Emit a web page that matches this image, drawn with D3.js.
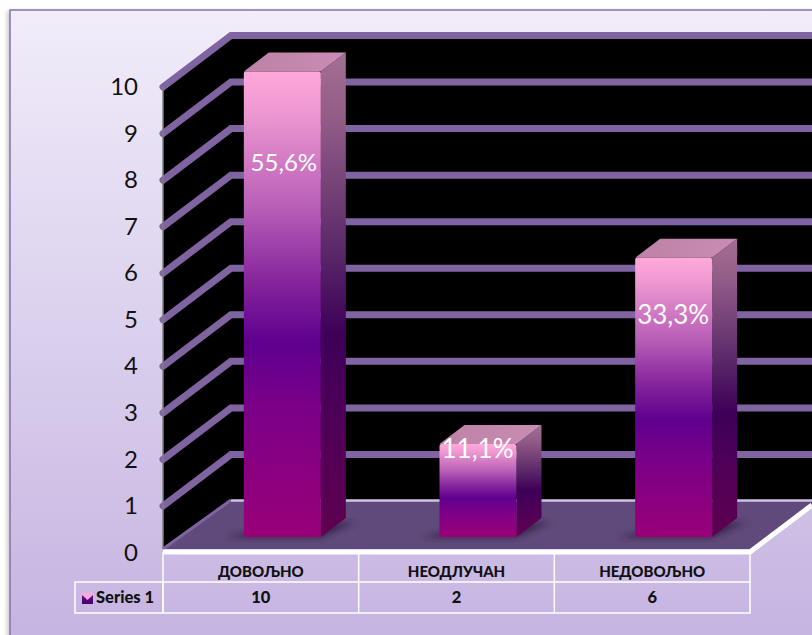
<!DOCTYPE html>
<html>
<head>
<meta charset="utf-8">
<script src="https://cdn.jsdelivr.net/npm/d3@7"></script>
<style>
html,body{margin:0;padding:0;background:#fff;overflow:hidden}
svg{display:block}
text{font-family:"Lato","Open Sans",sans-serif}
</style>
</head>
<body>
<div id="chart"></div>
<script>
var categories = ["ДОВОЉНО", "НЕОДЛУЧАН", "НЕДОВОЉНО"];
var seriesName = "Series 1";
var values = [10, 2, 6];
var percentLabels = ["55,6%", "11,1%", "33,3%"];
var yTicks = [0,1,2,3,4,5,6,7,8,9,10];

var width = 812, height = 635;
var left = 163, right = 750, base = 549, axisBase = 552.5, top10 = 87;
var depthX = 68, depthY = 49, gridDepthY = 51.5;

var svg = d3.select("#chart").append("svg").attr("width", width).attr("height", height);
var defs = svg.append("defs");

function gradient(id, stops, horizontal){
  var g = defs.append("linearGradient").attr("id", id)
    .attr("x1", 0).attr("y1", 0).attr("x2", horizontal ? 1 : 0).attr("y2", horizontal ? 0 : 1);
  stops.forEach(function(s){
    g.append("stop").attr("offset", s[0]).attr("stop-color", s[1]);
  });
}
gradient("bg", [[0,"#f1edfa"],[1,"#c4b2e0"]]);
gradient("front", [[0,"#ffa8dc"],[0.08,"#f09ad2"],[0.3,"#b65cb6"],[0.45,"#86259c"],[0.58,"#5f008f"],[0.72,"#7a0088"],[1,"#9a0078"]]);
gradient("side", [[0,"#a56f94"],[0.15,"#8f5a85"],[0.4,"#5c2a6a"],[0.58,"#3e0058"],[0.75,"#4e0058"],[1,"#5f0050"]]);
gradient("topface", [[0,"#bd82a6"],[1,"#c98cb4"]], true);
gradient("key", [[0,"#6a1090"],[1,"#4a0070"]]);

var blur = defs.append("filter").attr("id", "blur")
  .attr("x", "-30%").attr("y", "-30%").attr("width", "160%").attr("height", "160%");
blur.append("feGaussianBlur").attr("stdDeviation", 3);
var panelShadow = defs.append("filter").attr("id", "panelShadow")
  .attr("x", "-5%").attr("y", "-5%").attr("width", "110%").attr("height", "110%");
panelShadow.append("feGaussianBlur").attr("stdDeviation", 2);

// scales
var y = d3.scaleLinear().domain([0, 10]).range([axisBase, top10]);
var x = d3.scaleBand().domain(categories).range([left, right]);
var barW = 77, barDx = 25, barDy = 19, barBaseY = 537, barOffset = 21.5;

// panel
svg.append("rect").attr("x", 7).attr("y", 11).attr("width", 830).attr("height", 650)
  .attr("fill", "#999").attr("opacity", 0.5).attr("filter", "url(#panelShadow)");
svg.append("rect").attr("x", 10).attr("y", 10).attr("width", 830).attr("height", 650)
  .attr("fill", "url(#bg)").attr("stroke", "#8a70ac").attr("stroke-width", 1.5);

// back and side wall
var lineGen = d3.line();
svg.append("path")
  .attr("d", lineGen([[left, top10], [left + depthX, top10 - gridDepthY], [width, top10 - gridDepthY], [width, base - depthY], [left + depthX, base - depthY], [left, base]]) + "Z")
  .attr("fill", "#000");

// floor
svg.append("path")
  .attr("d", lineGen([[left, base], [left + depthX, base - depthY], [width, base - depthY], [width, base - depthY + 5], [right, base]]) + "Z")
  .attr("fill", "#604a7b");

// gridlines
var grid = svg.append("g");
grid.selectAll("path").data(yTicks.filter(function(d){ return d > 0; })).enter().append("path")
  .attr("d", function(d){
    return lineGen([[left, y(d)], [left + depthX, y(d) - gridDepthY], [width + 5, y(d) - gridDepthY]]);
  })
  .attr("fill", "none").attr("stroke", "#8064a2").attr("stroke-width", 7)
  .attr("stroke-linecap", "round").attr("stroke-linejoin", "miter");

// floor edges
svg.append("path")
  .attr("d", lineGen([[left, base], [left + depthX, base - depthY]]))
  .attr("stroke", "#8064a2").attr("stroke-width", 3).attr("fill", "none");
svg.append("line").attr("x1", left + depthX).attr("x2", width)
  .attr("y1", base - depthY + 0.5).attr("y2", base - depthY + 0.5)
  .attr("stroke", "#cfc3e3").attr("stroke-width", 2.5);
svg.append("line").attr("x1", left).attr("x2", left)
  .attr("y1", top10).attr("y2", base)
  .attr("stroke", "#7f7f7f").attr("stroke-width", 1.5);

// bars
var bars = svg.selectAll("g.bar").data(values).enter().append("g").attr("class", "bar");
function barX(i){ return x(categories[i]) + x.bandwidth() / 2 + barOffset - barW / 2; }
function barTop(d){ return barBaseY - (y(0) - y(d)); }

bars.append("path")
  .attr("d", function(d, i){
    var x0 = barX(i);
    return lineGen([[x0 - 18, barBaseY + 1], [x0 + barW, barBaseY + 1], [x0 + barW + barDx + 10, barBaseY - barDy + 4], [x0 + barDx, barBaseY - barDy + 8]]) + "Z";
  })
  .attr("fill", "#2f1f40").attr("opacity", 0.75).attr("filter", "url(#blur)");
bars.append("path")
  .attr("d", function(d, i){
    var x0 = barX(i) + barW, t = barTop(d);
    return lineGen([[x0, t], [x0 + barDx, t - barDy], [x0 + barDx, barBaseY - barDy], [x0, barBaseY]]) + "Z";
  })
  .attr("fill", "url(#side)");
bars.append("path")
  .attr("d", function(d, i){
    var x0 = barX(i), t = barTop(d);
    return lineGen([[x0, t], [x0 + barDx, t - barDy], [x0 + barW + barDx, t - barDy], [x0 + barW, t]]) + "Z";
  })
  .attr("fill", "url(#topface)");
bars.append("rect")
  .attr("x", function(d, i){ return barX(i); })
  .attr("y", barTop)
  .attr("width", barW).attr("rx", 2)
  .attr("height", function(d){ return barBaseY - barTop(d); })
  .attr("fill", "url(#front)");

// percent labels
bars.append("text")
  .attr("x", function(d, i){ return barX(i) + barW / 2 + (i == 0 ? 1.5 : -0.5); })
  .attr("y", function(d, i){ return y(i == 0 ? 8.37 : i == 1 ? 2.22 : 5.1); })
  .attr("dy", "0.35em")
  .attr("text-anchor", "middle").attr("fill", "#fff")
  .attr("font-size", function(d, i){ return i == 0 ? 24 : 26; })
  .text(function(d, i){ return percentLabels[i]; });

// y axis
var axis = svg.append("g").attr("transform", "translate(138,0)")
  .call(d3.axisLeft(y).tickValues(yTicks).tickSize(0).tickPadding(0).tickFormat(d3.format("d")));
axis.select(".domain").remove();
axis.selectAll("text").attr("font-size", 24).attr("fill", "#111").style("font-family", "Lato");

// front white edge
svg.append("path")
  .attr("d", lineGen([[left, base + 3], [right, base + 3], [width, base - depthY + 5]]))
  .attr("fill", "none").attr("stroke", "#fff").attr("stroke-width", 5);

// data table
var rowTop = 555, rowMid = 582, rowBottom = 613, legendLeft = 75;
var table = svg.append("g").attr("stroke", "#fff").attr("stroke-width", 1.5).attr("fill", "none");
table.append("rect").attr("x", left).attr("y", rowTop - 2).attr("width", right - left).attr("height", rowBottom - rowTop + 2);
table.append("rect").attr("x", legendLeft).attr("y", rowMid).attr("width", left - legendLeft).attr("height", rowBottom - rowMid);
table.append("line").attr("x1", left).attr("x2", right).attr("y1", rowMid).attr("y2", rowMid);
table.selectAll("line.col").data(categories.slice(1)).enter().append("line").attr("class", "col")
  .attr("x1", function(d){ return x(d); }).attr("x2", function(d){ return x(d); })
  .attr("y1", rowTop - 2).attr("y2", rowBottom);

var cellText = svg.append("g").attr("text-anchor", "middle").attr("font-weight", 900).attr("fill", "#111");
cellText.selectAll("text.cat").data(categories).enter().append("text").attr("class", "cat")
  .attr("x", function(d){ return x(d) + x.bandwidth() / 2; })
  .attr("y", 572).attr("dy", "0.32em").attr("font-size", 15).text(function(d){ return d; });
cellText.selectAll("text.val").data(values).enter().append("text").attr("class", "val")
  .attr("x", function(d, i){ return x(categories[i]) + x.bandwidth() / 2; })
  .attr("y", 598).attr("dy", "0.32em").attr("font-size", 16.5).text(function(d){ return d; });

// legend key
var key = svg.append("g").attr("transform", "translate(82,593)");
key.append("rect").attr("width", 11).attr("height", 11).attr("fill", "url(#key)");
key.append("path").attr("d", lineGen([[0, 0], [11, 0], [11, 2], [5.5, 7], [0, 2]]) + "Z").attr("fill", "#ffa8dc");
svg.append("text").attr("x", 96).attr("y", 598).attr("dy", "0.32em")
  .attr("font-size", 16.5).attr("font-weight", 900).attr("fill", "#111").text(seriesName);
</script>
</body>
</html>
